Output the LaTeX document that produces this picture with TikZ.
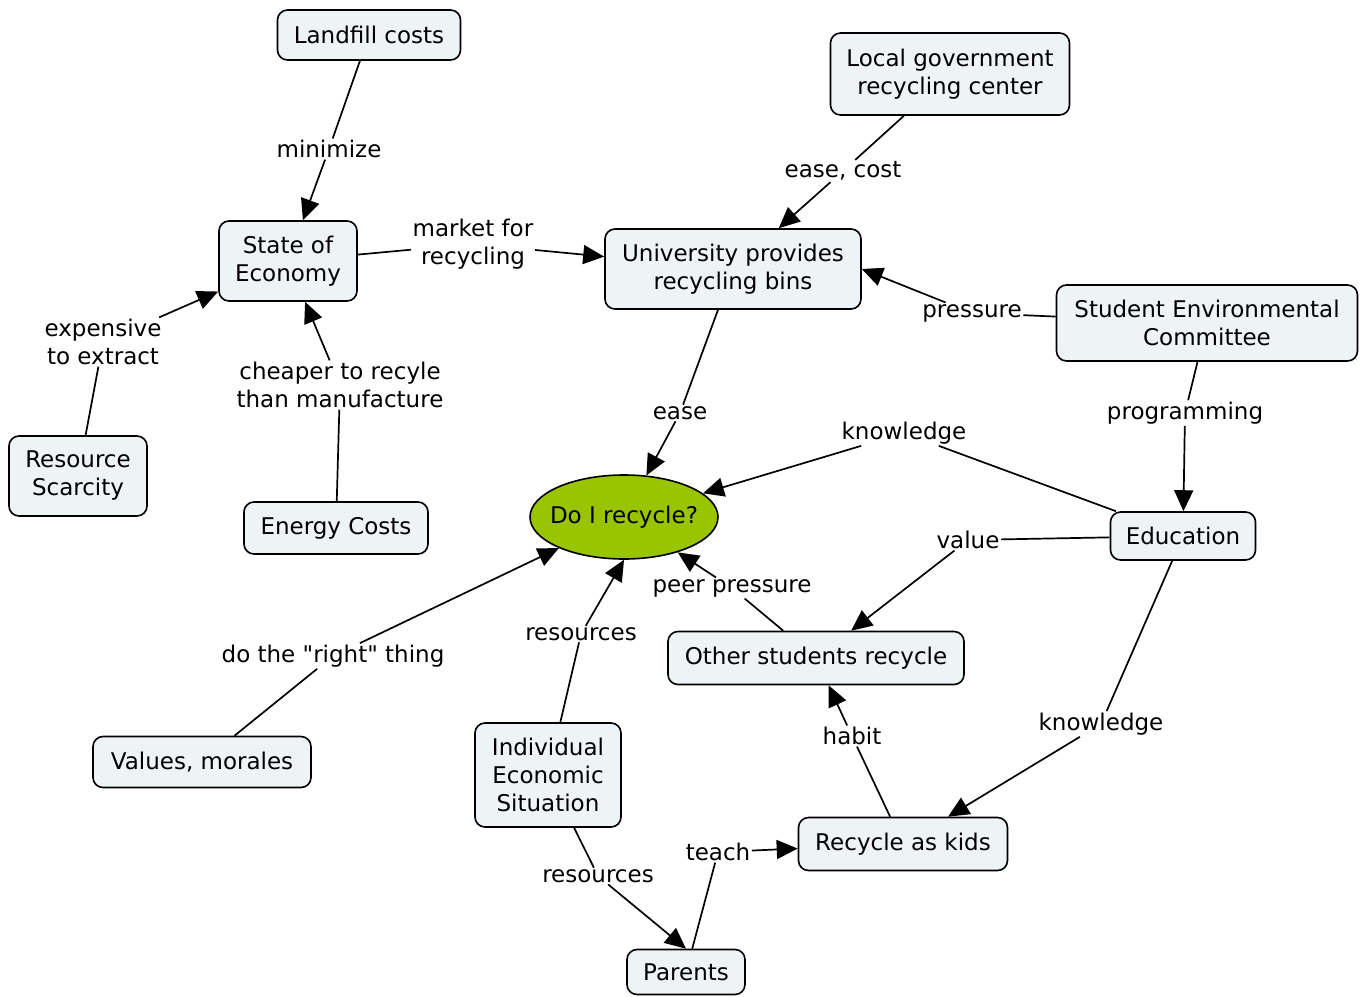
\documentclass[tikz,border=0pt]{standalone}
\usepackage{fontspec}
\setmainfont{DejaVu Sans}[Ligatures=TeXOff]
\usetikzlibrary{arrows.meta,shapes.geometric}
\definecolor{boxfill}{HTML}{EEF3F6}
\definecolor{ovalfill}{HTML}{99C400}
\tikzset{
  cbox/.style={draw=black, line width=1.6pt, fill=boxfill, rounded corners=10pt,
    align=center, inner sep=0pt, font=\fontsize{23}{28}\selectfont},
  oval/.style={draw=black, line width=1.6pt, fill=ovalfill, ellipse, inner sep=0pt,
    font=\fontsize{23}{28}\selectfont},
  lbl/.style={align=center, inner sep=1.5pt, font=\fontsize{23}{28}\selectfont},
  conn/.style={draw=black, line width=1.7pt},
  arr/.style={-{Triangle[length=21pt,width=19pt]}}
}
\begin{document}
\begin{tikzpicture}[x=1pt,y=-1pt]
\useasboundingbox (0,0) rectangle (1360,996);
% concept nodes
\node[cbox, minimum width=183pt, minimum height=50pt] (landfill) at (369,35) {Landfill costs};
\node[cbox, minimum width=239pt, minimum height=82pt] (localgov) at (950,74) {Local government\\recycling center};
\node[cbox, minimum width=138pt, minimum height=80pt] (state) at (288,261) {State of\\Economy};
\node[cbox, minimum width=256pt, minimum height=80pt] (univ) at (733,269) {University provides\\recycling bins};
\node[cbox, minimum width=301pt, minimum height=76pt] (student) at (1207,323) {Student Environmental\\Committee};
\node[cbox, minimum width=138pt, minimum height=80pt] (resource) at (78,476) {Resource\\Scarcity};
\node[cbox, minimum width=184pt, minimum height=52pt] (energy) at (336,528) {Energy Costs};
\node[oval, minimum width=188pt, minimum height=84pt] (doi) at (624,517) {\makebox[0pt][c]{Do I recycle?}};
\node[cbox, minimum width=145pt, minimum height=48pt] (edu) at (1183,536) {Education};
\node[cbox, minimum width=296pt, minimum height=53pt] (other) at (816,658) {Other students recycle};
\node[cbox, minimum width=218pt, minimum height=51pt] (values) at (202,762) {Values, morales};
\node[cbox, minimum width=146pt, minimum height=104pt] (indiv) at (548,775) {Individual\\Economic\\Situation};
\node[cbox, minimum width=209pt, minimum height=53pt] (kids) at (903,844) {Recycle as kids};
\node[cbox, minimum width=118pt, minimum height=45pt] (parents) at (686,972) {Parents};
% linking phrases
\node[lbl] (lmin) at (329,149) {minimize};
\node[lbl] (leasecost) at (843,171) {ease, cost};
\node[lbl] (lmarket) at (473,244) {market for\\recycling};
\node[lbl] (lpress) at (972,313) {pressure};
\node[lbl] (lexp) at (103,342) {expensive\\to extract};
\node[lbl] (lcheap) at (340,385) {cheaper to recyle\\than manufacture};
\node[lbl] (lease) at (680,413) {ease};
\node[lbl] (lknow) at (904,433) {knowledge};
\node[lbl] (lprog) at (1185,413) {programming};
\node[lbl] (lvalue) at (968,540) {value};
\node[lbl] (lpeer) at (732,588) {peer pressure};
\node[lbl] (lright) at (333,656) {do the "right" thing};
\node[lbl] (lres) at (581,634) {resources};
\node[lbl] (lknowb) at (1101,724) {knowledge};
\node[lbl] (lhabit) at (852,736) {habit};
\node[lbl] (lresb) at (598,876) {resources};
\node[lbl] (lteach) at (718,852) {teach};
% connectors
\draw[conn] (landfill) -- (lmin);
\draw[conn,arr] (lmin) -- (state);
\draw[conn] (localgov) -- (leasecost);
\draw[conn,arr] (leasecost) -- (univ);
\draw[conn] (state) -- (lmarket);
\draw[conn,arr] (lmarket) -- (univ);
\draw[conn] (student) -- (lpress);
\draw[conn,arr] (lpress) -- (univ.east);
\draw[conn] (resource) -- (lexp);
\draw[conn,arr] (lexp) -- (state);
\draw[conn] (energy) -- (lcheap);
\draw[conn,arr] (lcheap) -- (state);
\draw[conn] (univ) -- (lease);
\draw[conn,arr] (lease) -- (doi);
\draw[conn] (edu) -- (lknow);
\draw[conn,arr] (lknow) -- (doi);
\draw[conn] (student) -- (lprog);
\draw[conn,arr] (lprog) -- (edu);
\draw[conn] (edu) -- (lvalue);
\draw[conn,arr] (lvalue) -- (other);
\draw[conn] (other) -- (lpeer);
\draw[conn,arr] (lpeer) -- (doi);
\draw[conn] (values) -- (lright);
\draw[conn,arr] (lright) -- (doi);
\draw[conn] (indiv) -- (lres);
\draw[conn,arr] (lres) -- (doi.south);
\draw[conn] (edu) -- (lknowb);
\draw[conn,arr] (lknowb) -- (kids);
\draw[conn] (kids) -- (lhabit);
\draw[conn,arr] (lhabit) -- (other);
\draw[conn] (indiv) -- (lresb);
\draw[conn,arr] (lresb) -- (parents.north);
\draw[conn] (parents) -- (lteach);
\draw[conn,arr] (lteach) -- (kids);
\end{tikzpicture}
\end{document}
